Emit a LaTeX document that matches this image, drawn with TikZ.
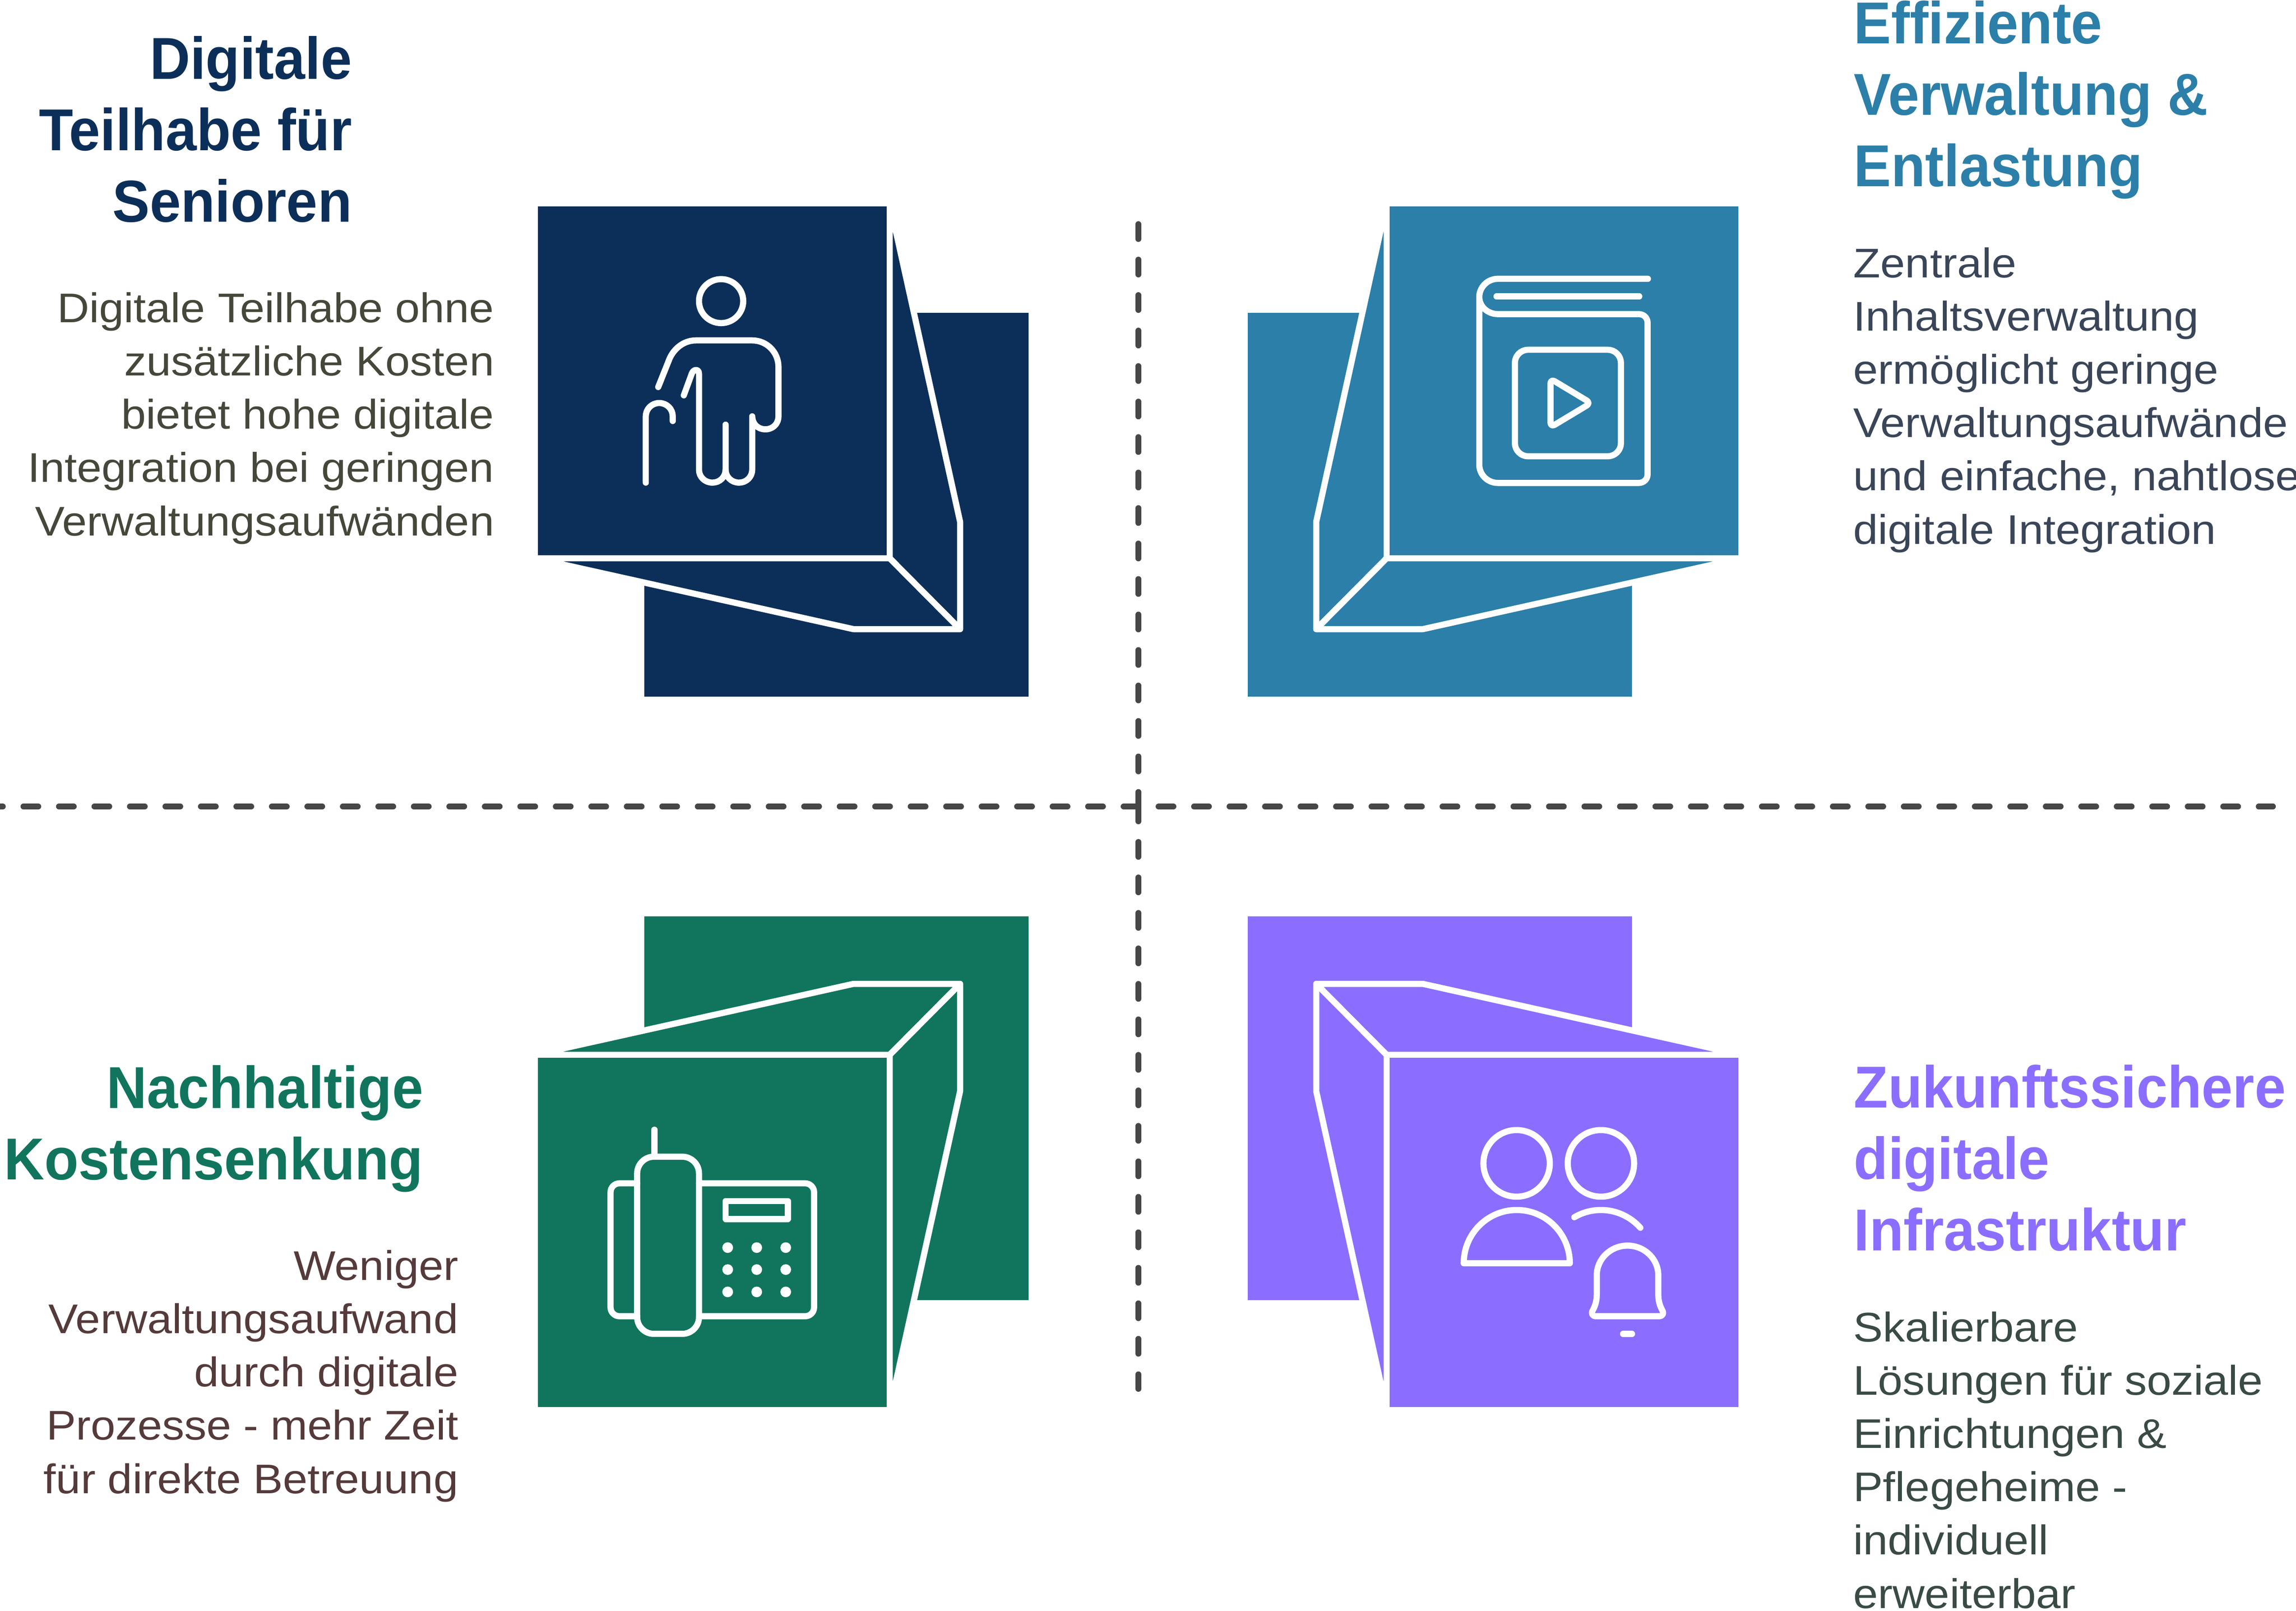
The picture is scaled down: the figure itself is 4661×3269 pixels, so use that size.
\documentclass[tikz,border=0pt]{standalone}
\usepackage{fontspec}
\newfontfamily\headfont[FakeStretch=0.945,Ligatures=NoCommon]{Liberation Sans Bold}
\newfontfamily\bodyfont[FakeStretch=1.072]{Liberation Sans}
\definecolor{navy}{HTML}{0B2F58}
\definecolor{teal}{HTML}{2B7FA8}
\definecolor{forest}{HTML}{10755C}
\definecolor{violet}{HTML}{8B6EFF}
\definecolor{dashgrey}{HTML}{474747}
\definecolor{txtolive}{HTML}{45473A}
\definecolor{txtslate}{HTML}{3A4558}
\definecolor{txtmaroon}{HTML}{553A3B}
\definecolor{txtmoss}{HTML}{3A4A44}
\tikzset{
  x=0.01cm,y=-0.01cm,
  iconline/.style={draw=white,line width=0.125cm,line cap=round,line join=round},
  foldface/.style={draw=white,line width=0.125cm,line join=round},
  divider/.style={draw=dashgrey,line width=0.12cm,line cap=round,dash pattern=on 0.30cm off 0.42cm},
  headtext/.style={inner sep=0pt,font=\headfont\fontsize{34.14}{41.1}\selectfont},
  bodytext/.style={inner sep=0pt,font=\bodyfont\fontsize{23.9}{30.73}\selectfont},
  iconscope/.style={xscale=0.7015,yscale=0.676},
}
\newcommand{\foldquad}[3]{%
  \begin{scope}[shift={(2310.5,1637)},xscale=#1,yscale=#2]
    \fill[#3] (-1002.5,-1002) rectangle (-222.5,-223);
    \filldraw[fill=#3,foldface] (-504.5,-1225) -- (-361.5,-578) -- (-361.5,-360) -- (-504.5,-504) -- cycle;
    \filldraw[fill=#3,foldface] (-1225,-504) -- (-578,-360) -- (-361.5,-360) -- (-504.5,-504) -- cycle;
    \fill[#3] (-1218.5,-1218.5) rectangle (-510.5,-510);
  \end{scope}}
\begin{document}
\begin{tikzpicture}
\useasboundingbox (0,0) rectangle (4661,3269);
% dividers
\coordinate (vtop) at (2311,455);
\coordinate (vmid) at (2311,1637);
\coordinate (vbot) at (2311,2819);
\coordinate (hleft) at (-24,1637);
\coordinate (hright0) at (2352,1637);
\coordinate (hright1) at (4614,1637);
\draw[divider] (vtop) -- (vmid);
\draw[divider] (vmid) -- (vbot);
\draw[divider] (vmid) -- (hleft);
\draw[divider] (hright0) -- (hright1);
% folded squares
\foldquad{1}{1}{navy}
\foldquad{-1}{1}{teal}
\foldquad{1}{-1}{forest}
\foldquad{-1}{-1}{violet}
% person with cane
\begin{scope}[shift={(1050,380)},iconscope]
  \draw[iconline] (590,342) ellipse [x radius=64,y radius=66];
  \draw[iconline] (408,600) -- (438,522) .. controls (450,487) and (480,460) .. (517,460) -- (680,460)
    .. controls (722,460) and (756,495) .. (756,540) -- (756,688)
    .. controls (756,710) and (740,727) .. (718,727) .. controls (696,727) and (680,710) .. (680,688)
    -- (680,848) .. controls (680,870) and (663,887) .. (642,887) .. controls (620,887) and (603,870) .. (603,848)
    -- (603,713);
  \draw[iconline] (603,848) .. controls (603,870) and (586,887) .. (565,887)
    .. controls (543,887) and (526,870) .. (526,848) -- (526,560)
    .. controls (526,545) and (510,545) .. (505,560) -- (482,625);
  \draw[iconline] (372,887) -- (372,688) .. controls (372,666) and (389,648) .. (411,648)
    .. controls (433,648) and (450,666) .. (450,688) -- (450,702);
\end{scope}
% book with play button
\begin{scope}[shift={(2500,380)},iconscope]
  \draw[iconline] (1205,275) -- (771,275) .. controls (741,275) and (717,300) .. (717,330)
    .. controls (717,358) and (741,381) .. (771,381) -- (1178,381)
    .. controls (1193,381) and (1204,392) .. (1204,407) -- (1204,862)
    .. controls (1204,877) and (1193,888) .. (1178,888) -- (771,888)
    .. controls (741,888) and (717,863) .. (717,833) -- (717,330);
  \draw[iconline] (767,328) -- (1180,328);
  \draw[iconline,rounded corners=0.27cm] (820,488) rectangle (1127,808);
  \draw[iconline,rounded corners=0.1cm] (923,575) -- (1040,648) -- (923,721) -- cycle;
\end{scope}
% telephone
\begin{scope}[shift={(1050,1830)},iconscope]
  \draw[iconline] (397,685) -- (397,766);
  \draw[iconline,rounded corners=0.34cm] (347,766) rectangle (526,1298);
  \draw[iconline,rounded corners=0.18cm] (347,846) -- (270,846) -- (270,1245) -- (347,1245);
  \draw[iconline,rounded corners=0.18cm] (526,846) -- (859,846) -- (859,1245) -- (526,1245);
  \draw[iconline] (603,899) rectangle (783,953);
  \foreach \px in {609,693,777}{\foreach \py in {1039,1105,1172}{
    \fill[white] (\px,\py) ellipse [x radius=15.5,y radius=16];}}
\end{scope}
% people and bell
\begin{scope}[shift={(2500,1830)},iconscope]
  \draw[iconline] (825,786) ellipse [x radius=96,y radius=100];
  \draw[iconline] (1069,786) ellipse [x radius=96,y radius=100];
  \draw[iconline] (672,1086) .. controls (672,997.6) and (740.7,926) .. (825.5,926)
    .. controls (910.3,926) and (979,997.6) .. (979,1086) -- cycle;
  \draw[iconline] plot[domain=41.8:120.2,samples=30] ({1069+153*cos(\x)},{1086-160*sin(\x)});
  \draw[iconline] (1057,1122) .. controls (1057,1073) and (1097,1033) .. (1146,1033)
    .. controls (1195,1033) and (1235,1073) .. (1235,1122) -- (1235,1180)
    .. controls (1235,1200) and (1240,1215) .. (1247,1228)
    .. controls (1252,1238) and (1247,1245) .. (1237,1245) -- (1055,1245)
    .. controls (1045,1245) and (1040,1238) .. (1045,1228)
    .. controls (1052,1215) and (1057,1200) .. (1057,1180) -- cycle;
  \draw[iconline] (1133,1298) -- (1159,1298);
\end{scope}
% texts (anchored on the baseline of the last line)
\node (h1) [headtext,anchor=base east,align=right,text=navy] at (715,450) {Digitale\\Teilhabe für\\Senioren};
\node (b1) [bodytext,anchor=base east,align=right,text=txtolive] at (1004,1087) {Digitale Teilhabe ohne\\zusätzliche Kosten\\bietet hohe digitale\\Integration bei geringen\\Verwaltungsaufwänden};
\node (h2) [headtext,anchor=base west,align=left,text=teal] at (3763,378) {Effiziente\\Verwaltung \&\\Entlastung};
\node (b2) [bodytext,anchor=base west,align=left,text=txtslate] at (3762,1104) {Zentrale\\Inhaltsverwaltung\\ermöglicht geringe\\Verwaltungsaufwände\\und einfache, nahtlose\\digitale Integration};
\node (h3) [headtext,anchor=base east,align=right,text=forest] at (860,2394) {Nachhaltige\\Kostensenkung};
\node (b3) [bodytext,anchor=base east,align=right,text=txtmaroon] at (931,3031) {Weniger\\Verwaltungsaufwand\\durch digitale\\Prozesse - mehr Zeit\\für direkte Betreuung};
\node (h4) [headtext,anchor=base west,align=left,text=violet] at (3763,2538) {Zukunftssichere\\digitale\\Infrastruktur};
\node (b4) [bodytext,anchor=base west,align=left,text=txtmoss] at (3762,3264) {Skalierbare\\Lösungen für soziale\\Einrichtungen \&\\Pflegeheime -\\individuell\\erweiterbar};
\end{tikzpicture}
\end{document}
